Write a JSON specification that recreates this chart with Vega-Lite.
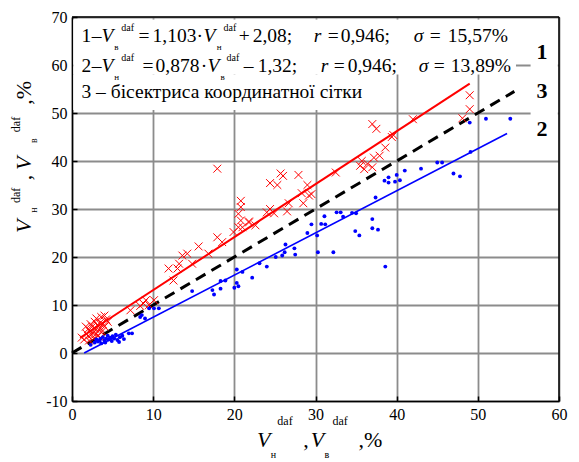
{
  "$schema": "https://vega.github.io/schema/vega-lite/v6.json",
  "width": 487,
  "height": 384,
  "autosize": {"type": "none"},
  "padding": {"left": 72, "top": 17, "right": 20, "bottom": 61},
  "background": "white",
  "config": {
    "view": {"stroke": null},
    "axis": {
      "title": null,
      "grid": true,
      "gridColor": "#8c8c8c",
      "gridWidth": 1.8,
      "domainColor": "black",
      "domainWidth": 1.5,
      "tickColor": "black",
      "tickWidth": 1.5,
      "tickSize": -5,
      "labelFont": "Liberation Serif",
      "labelFontSize": 16,
      "labelColor": "black",
      "labelPadding": 10,
      "labelFlush": false,
      "labelExpr": "'' + datum.value"
    },
    "axisX": {"tickCount": 6},
    "axisY": {"tickCount": 8}
  },
  "datasets": {
    "red": [
      {"x":1.2,"y":3.2},{"x":1.5,"y":2.8},{"x":1.8,"y":4.0},{"x":2.0,"y":3.5},{"x":2.0,"y":5.0},{"x":2.2,"y":4.5},{"x":2.3,"y":6.0},{"x":2.4,"y":3.8},{"x":2.5,"y":5.5},{"x":2.6,"y":4.2},{"x":2.7,"y":3.0},{"x":2.8,"y":6.5},{"x":2.9,"y":5.0},{"x":3.0,"y":4.0},{"x":3.0,"y":7.2},{"x":3.1,"y":5.8},{"x":3.2,"y":3.5},{"x":3.3,"y":4.8},{"x":3.4,"y":6.2},{"x":3.5,"y":5.2},{"x":3.6,"y":7.5},{"x":3.7,"y":4.5},{"x":3.8,"y":6.0},{"x":4.0,"y":5.5},{"x":4.2,"y":7.0},{"x":4.4,"y":6.5},{"x":1.7,"y":5.5},{"x":2.1,"y":2.6},{"x":3.5,"y":3.2},{"x":4.0,"y":7.8},
      {"x":7.2,"y":8.9},{"x":8.4,"y":9.8},{"x":8.8,"y":10.3},{"x":9.1,"y":11.0},{"x":9.5,"y":10.0},{"x":10.1,"y":11.0},
      {"x":12.5,"y":15.1},{"x":11.9,"y":17.6},{"x":13.0,"y":17.6},{"x":13.2,"y":18.6},{"x":13.6,"y":20.3},{"x":14.2,"y":20.7},{"x":14.8,"y":18.6},{"x":15.6,"y":22.2},{"x":16.8,"y":20.7},{"x":17.9,"y":24.1},{"x":18.5,"y":23.1},{"x":19.9,"y":25.2},{"x":20.5,"y":26.2},{"x":20.8,"y":27.6},{"x":21.8,"y":27.2},{"x":20.5,"y":29.0},{"x":20.8,"y":30.4},{"x":20.8,"y":31.7},{"x":22.6,"y":26.6},{"x":24.0,"y":29.3},{"x":17.9,"y":38.4},
      {"x":24.4,"y":35.4},{"x":25.3,"y":35.0},{"x":25.7,"y":37.4},{"x":26.0,"y":36.9},{"x":27.9,"y":37.1},{"x":29.0,"y":35.0},{"x":28.3,"y":33.3},{"x":29.2,"y":32.8},{"x":29.5,"y":33.1},{"x":28.5,"y":31.2},{"x":26.7,"y":31.2},{"x":26.5,"y":29.5},{"x":24.4,"y":30.0},{"x":24.9,"y":29.1},{"x":21.0,"y":26.2},{"x":21.8,"y":27.4},{"x":32.5,"y":37.6},
      {"x":35.7,"y":40.0},{"x":36.4,"y":39.4},{"x":35.5,"y":39.0},{"x":37.0,"y":38.7},{"x":37.2,"y":40.7},{"x":36.0,"y":38.3},{"x":37.9,"y":41.1},{"x":38.6,"y":42.8},{"x":39.4,"y":45.0},{"x":39.6,"y":45.4},{"x":37.0,"y":47.7},{"x":37.5,"y":46.7},{"x":42.0,"y":48.7},{"x":48.1,"y":48.9},{"x":49.0,"y":50.8},{"x":49.0,"y":53.7}
    ],
    "blue": [
      {"x":2.3,"y":1.7},{"x":2.8,"y":2.2},{"x":3.0,"y":2.8},{"x":3.2,"y":2.4},{"x":3.5,"y":3.0},{"x":3.6,"y":2.0},{"x":3.8,"y":3.3},{"x":4.0,"y":2.6},{"x":4.2,"y":3.0},{"x":4.4,"y":3.6},{"x":4.5,"y":2.8},{"x":4.7,"y":3.2},{"x":4.9,"y":2.5},{"x":5.0,"y":3.5},{"x":5.2,"y":3.0},{"x":5.4,"y":3.8},{"x":5.6,"y":2.7},{"x":5.8,"y":2.3},{"x":5.9,"y":3.3},{"x":6.2,"y":3.6},{"x":6.4,"y":2.9},{"x":7.0,"y":4.1},{"x":7.4,"y":4.1},{"x":3.4,"y":2.6},{"x":4.1,"y":2.2},
      {"x":8.6,"y":7.9},{"x":9.0,"y":7.2},{"x":9.5,"y":9.3},{"x":10.1,"y":9.3},{"x":10.7,"y":9.3},{"x":8.4,"y":7.5},
      {"x":14.8,"y":12.9},{"x":17.3,"y":13.1},{"x":17.5,"y":12.2},{"x":18.3,"y":13.4},{"x":18.3,"y":15.0},{"x":18.9,"y":15.1},{"x":20.0,"y":13.6},{"x":20.5,"y":13.9},{"x":20.3,"y":14.6},{"x":20.3,"y":17.4},{"x":21.0,"y":16.9},{"x":22.2,"y":15.7},{"x":23.1,"y":18.7},{"x":24.0,"y":18.0},
      {"x":25.1,"y":20.0},{"x":25.9,"y":20.3},{"x":26.2,"y":21.0},{"x":26.3,"y":22.6},{"x":27.4,"y":21.8},{"x":27.5,"y":20.5},{"x":29.0,"y":25.0},{"x":29.5,"y":26.8},{"x":30.2,"y":24.5},{"x":30.3,"y":21.0},{"x":30.7,"y":26.9},{"x":31.2,"y":26.8},{"x":31.1,"y":28.5},{"x":32.2,"y":21.0},{"x":32.6,"y":29.3},{"x":33.1,"y":29.3},{"x":33.4,"y":28.4},{"x":34.5,"y":29.2},{"x":35.0,"y":29.1},{"x":34.9,"y":25.4},{"x":35.4,"y":24.5},{"x":37.0,"y":27.9},{"x":37.0,"y":26.0},{"x":37.7,"y":25.7},{"x":37.4,"y":32.4},{"x":38.6,"y":18.0},
      {"x":38.5,"y":35.9},{"x":39.0,"y":36.6},{"x":39.0,"y":35.5},{"x":39.8,"y":35.7},{"x":40.4,"y":36.0},{"x":40.0,"y":37.1},{"x":41.0,"y":38.0},{"x":43.0,"y":38.4},{"x":45.0,"y":39.7},{"x":45.6,"y":39.7},{"x":47.0,"y":37.4},{"x":47.8,"y":36.8},{"x":49.1,"y":41.9},{"x":49.0,"y":48.0},{"x":51.0,"y":48.8},{"x":54.0,"y":48.8}
    ],
    "fitRed": [{"x":1.0,"y":3.18},{"x":49.0,"y":56.13}],
    "fitBlue": [{"x":1.5,"y":0.0},{"x":53.6,"y":45.74}],
    "bisector": [{"x":0,"y":0},{"x":54.5,"y":54.5}],
    "boxes": [
      {"x":0.15,"x2":54.7,"y":69.5,"y2":58.0},
      {"x":0.15,"x2":36.9,"y":58.0,"y2":50.6},
      {"x":56.5,"x2":59.85,"y":65.2,"y2":43.3}
    ],
    "frame": [
      {"x":0,"x2":60,"y":70,"y2":70},
      {"x":60,"x2":60,"y":-10,"y2":70}
    ],
    "legendNormal": [
      {"x":1.17,"y":64.8,"t":"1"},{"x":2.42,"y":64.8,"t":"–"},{"x":8.2,"y":64.8,"t":"="},{"x":9.93,"y":64.8,"t":"1,103"},{"x":15.35,"y":64.8,"t":"·"},{"x":20.53,"y":64.8,"t":"+"},{"x":22.26,"y":64.8,"t":"2,08;"},{"x":31.5,"y":64.8,"t":"="},{"x":33.11,"y":64.8,"t":"0,946;"},{"x":44.08,"y":64.8,"t":"="},{"x":46.3,"y":64.8,"t":"15,57%"},
      {"x":1.17,"y":58.5,"t":"2"},{"x":2.42,"y":58.5,"t":"–"},{"x":8.69,"y":58.5,"t":"="},{"x":10.3,"y":58.5,"t":"0,878"},{"x":15.85,"y":58.5,"t":"·"},{"x":21.15,"y":58.5,"t":"–"},{"x":22.87,"y":58.5,"t":"1,32;"},{"x":32.24,"y":58.5,"t":"="},{"x":33.97,"y":58.5,"t":"0,946;"},{"x":44.57,"y":58.5,"t":"="},{"x":46.67,"y":58.5,"t":"13,89%"},
      {"x":1.17,"y":53.1,"t":"3 – бісектриса координатної сітки"}
    ],
    "legendItalic": [
      {"x":3.64,"y":64.8,"t":"V"},{"x":16.21,"y":64.8,"t":"V"},{"x":29.78,"y":64.8,"t":"r"},{"x":42.11,"y":64.8,"t":"σ"},
      {"x":3.64,"y":58.5,"t":"V"},{"x":16.7,"y":58.5,"t":"V"},{"x":30.64,"y":58.5,"t":"r"},{"x":42.72,"y":58.5,"t":"σ"}
    ],
    "legendSup": [
      {"x":6.08,"y":67.1,"t":"daf"},{"x":18.68,"y":67.1,"t":"daf"},{"x":6.08,"y":60.8,"t":"daf"},{"x":19.05,"y":60.8,"t":"daf"}
    ],
    "legendSub": [
      {"x":5.22,"y":63.1,"t":"в"},{"x":17.82,"y":63.1,"t":"н"},{"x":5.22,"y":56.9,"t":"н"},{"x":18.3,"y":56.9,"t":"в"}
    ],
    "lineLabels": [
      {"x":57.9,"y":61.2,"t":"1"},{"x":57.9,"y":53.1,"t":"3"},{"x":57.9,"y":45.2,"t":"2"}
    ],
    "xTitleItalic": [{"x":22.8,"y":-19.6,"t":"V"},{"x":29.4,"y":-19.6,"t":"V"}],
    "xTitleNormal": [{"x":28.5,"y":-19.6,"t":","},{"x":35.3,"y":-19.6,"t":",%"}],
    "xTitleSup": [{"x":25.3,"y":-15.0,"t":"daf"},{"x":32.1,"y":-15.0,"t":"daf"}],
    "xTitleSub": [{"x":24.5,"y":-21.9,"t":"н"},{"x":31.1,"y":-21.9,"t":"в"}],
    "yTitleItalic": [{"x":-5.0,"y":25.0,"t":"V"},{"x":-5.0,"y":38.1,"t":"V"}],
    "yTitleNormal": [{"x":-5.0,"y":36.0,"t":","},{"x":-5.0,"y":51.7,"t":",%"}],
    "yTitleSup": [{"x":-5.0,"y":31.25,"t":"daf"},{"x":-5.0,"y":46.0,"t":"daf"}],
    "yTitleSub": [{"x":-5.0,"y":29.2,"t":"н"},{"x":-5.0,"y":43.75,"t":"в"}]
  },
  "layer": [
    {
      "data": {"name": "boxes"},
      "mark": {"type": "rect", "fill": "white", "stroke": null},
      "encoding": {
        "x": {"field": "x", "type": "quantitative", "scale": {"domain": [0, 60], "nice": false, "zero": false}},
        "x2": {"field": "x2"},
        "y": {"field": "y", "type": "quantitative", "scale": {"domain": [-10, 70], "nice": false, "zero": false}},
        "y2": {"field": "y2"}
      }
    },
    {
      "data": {"name": "frame"},
      "mark": {"type": "rule", "color": "black", "strokeWidth": 1.5},
      "encoding": {
        "x": {"field": "x", "type": "quantitative"},
        "x2": {"field": "x2"},
        "y": {"field": "y", "type": "quantitative"},
        "y2": {"field": "y2"}
      }
    },
    {
      "data": {"name": "bisector"},
      "mark": {"type": "line", "color": "black", "strokeWidth": 3, "strokeDash": [11, 7]},
      "encoding": {
        "x": {"field": "x", "type": "quantitative"},
        "y": {"field": "y", "type": "quantitative"}
      }
    },
    {
      "data": {"name": "fitRed"},
      "mark": {"type": "line", "color": "#ff0000", "strokeWidth": 2},
      "encoding": {
        "x": {"field": "x", "type": "quantitative"},
        "y": {"field": "y", "type": "quantitative"}
      }
    },
    {
      "data": {"name": "fitBlue"},
      "mark": {"type": "line", "color": "#0000ff", "strokeWidth": 1.6},
      "encoding": {
        "x": {"field": "x", "type": "quantitative"},
        "y": {"field": "y", "type": "quantitative"}
      }
    },
    {
      "data": {"name": "red"},
      "mark": {"type": "point", "shape": "M-1,-1L1,1M-1,1L1,-1", "size": 62, "filled": false, "stroke": "#ff0000", "strokeWidth": 1, "opacity": 1},
      "encoding": {
        "x": {"field": "x", "type": "quantitative"},
        "y": {"field": "y", "type": "quantitative"}
      }
    },
    {
      "data": {"name": "blue"},
      "mark": {"type": "circle", "size": 15, "color": "#0000ff", "opacity": 1},
      "encoding": {
        "x": {"field": "x", "type": "quantitative"},
        "y": {"field": "y", "type": "quantitative"}
      }
    },
    {
      "data": {"name": "legendNormal"},
      "mark": {"type": "text", "font": "Liberation Serif", "fontSize": 19.5, "align": "left", "baseline": "alphabetic", "color": "black"},
      "encoding": {"x": {"field": "x", "type": "quantitative"}, "y": {"field": "y", "type": "quantitative"}, "text": {"field": "t"}}
    },
    {
      "data": {"name": "legendItalic"},
      "mark": {"type": "text", "font": "Liberation Serif", "fontSize": 19.5, "fontStyle": "italic", "align": "left", "baseline": "alphabetic", "color": "black"},
      "encoding": {"x": {"field": "x", "type": "quantitative"}, "y": {"field": "y", "type": "quantitative"}, "text": {"field": "t"}}
    },
    {
      "data": {"name": "legendSup"},
      "mark": {"type": "text", "font": "Liberation Serif", "fontSize": 10, "align": "left", "baseline": "alphabetic", "color": "black"},
      "encoding": {"x": {"field": "x", "type": "quantitative"}, "y": {"field": "y", "type": "quantitative"}, "text": {"field": "t"}}
    },
    {
      "data": {"name": "legendSub"},
      "mark": {"type": "text", "font": "Liberation Serif", "fontSize": 9, "align": "left", "baseline": "alphabetic", "color": "black"},
      "encoding": {"x": {"field": "x", "type": "quantitative"}, "y": {"field": "y", "type": "quantitative"}, "text": {"field": "t"}}
    },
    {
      "data": {"name": "lineLabels"},
      "mark": {"type": "text", "font": "Liberation Serif", "fontSize": 22, "fontWeight": "bold", "align": "center", "baseline": "alphabetic", "color": "black"},
      "encoding": {"x": {"field": "x", "type": "quantitative"}, "y": {"field": "y", "type": "quantitative"}, "text": {"field": "t"}}
    },
    {
      "data": {"name": "xTitleItalic"},
      "mark": {"type": "text", "font": "Liberation Serif", "fontSize": 22, "fontStyle": "italic", "align": "left", "baseline": "alphabetic", "color": "black"},
      "encoding": {"x": {"field": "x", "type": "quantitative"}, "y": {"field": "y", "type": "quantitative"}, "text": {"field": "t"}}
    },
    {
      "data": {"name": "xTitleNormal"},
      "mark": {"type": "text", "font": "Liberation Serif", "fontSize": 22, "align": "left", "baseline": "alphabetic", "color": "black"},
      "encoding": {"x": {"field": "x", "type": "quantitative"}, "y": {"field": "y", "type": "quantitative"}, "text": {"field": "t"}}
    },
    {
      "data": {"name": "xTitleSup"},
      "mark": {"type": "text", "font": "Liberation Serif", "fontSize": 12, "align": "left", "baseline": "alphabetic", "color": "black"},
      "encoding": {"x": {"field": "x", "type": "quantitative"}, "y": {"field": "y", "type": "quantitative"}, "text": {"field": "t"}}
    },
    {
      "data": {"name": "xTitleSub"},
      "mark": {"type": "text", "font": "Liberation Serif", "fontSize": 10, "align": "left", "baseline": "alphabetic", "color": "black"},
      "encoding": {"x": {"field": "x", "type": "quantitative"}, "y": {"field": "y", "type": "quantitative"}, "text": {"field": "t"}}
    },
    {
      "data": {"name": "yTitleItalic"},
      "mark": {"type": "text", "font": "Liberation Serif", "fontSize": 22, "fontStyle": "italic", "angle": 270, "align": "left", "baseline": "alphabetic", "color": "black"},
      "encoding": {"x": {"field": "x", "type": "quantitative"}, "y": {"field": "y", "type": "quantitative"}, "text": {"field": "t"}}
    },
    {
      "data": {"name": "yTitleNormal"},
      "mark": {"type": "text", "font": "Liberation Serif", "fontSize": 22, "angle": 270, "align": "left", "baseline": "alphabetic", "color": "black"},
      "encoding": {"x": {"field": "x", "type": "quantitative"}, "y": {"field": "y", "type": "quantitative"}, "text": {"field": "t"}}
    },
    {
      "data": {"name": "yTitleSup"},
      "mark": {"type": "text", "font": "Liberation Serif", "fontSize": 12, "angle": 270, "dy": -11, "align": "left", "baseline": "alphabetic", "color": "black"},
      "encoding": {"x": {"field": "x", "type": "quantitative"}, "y": {"field": "y", "type": "quantitative"}, "text": {"field": "t"}}
    },
    {
      "data": {"name": "yTitleSub"},
      "mark": {"type": "text", "font": "Liberation Serif", "fontSize": 10, "angle": 270, "dy": 6, "align": "left", "baseline": "alphabetic", "color": "black"},
      "encoding": {"x": {"field": "x", "type": "quantitative"}, "y": {"field": "y", "type": "quantitative"}, "text": {"field": "t"}}
    }
  ]
}
